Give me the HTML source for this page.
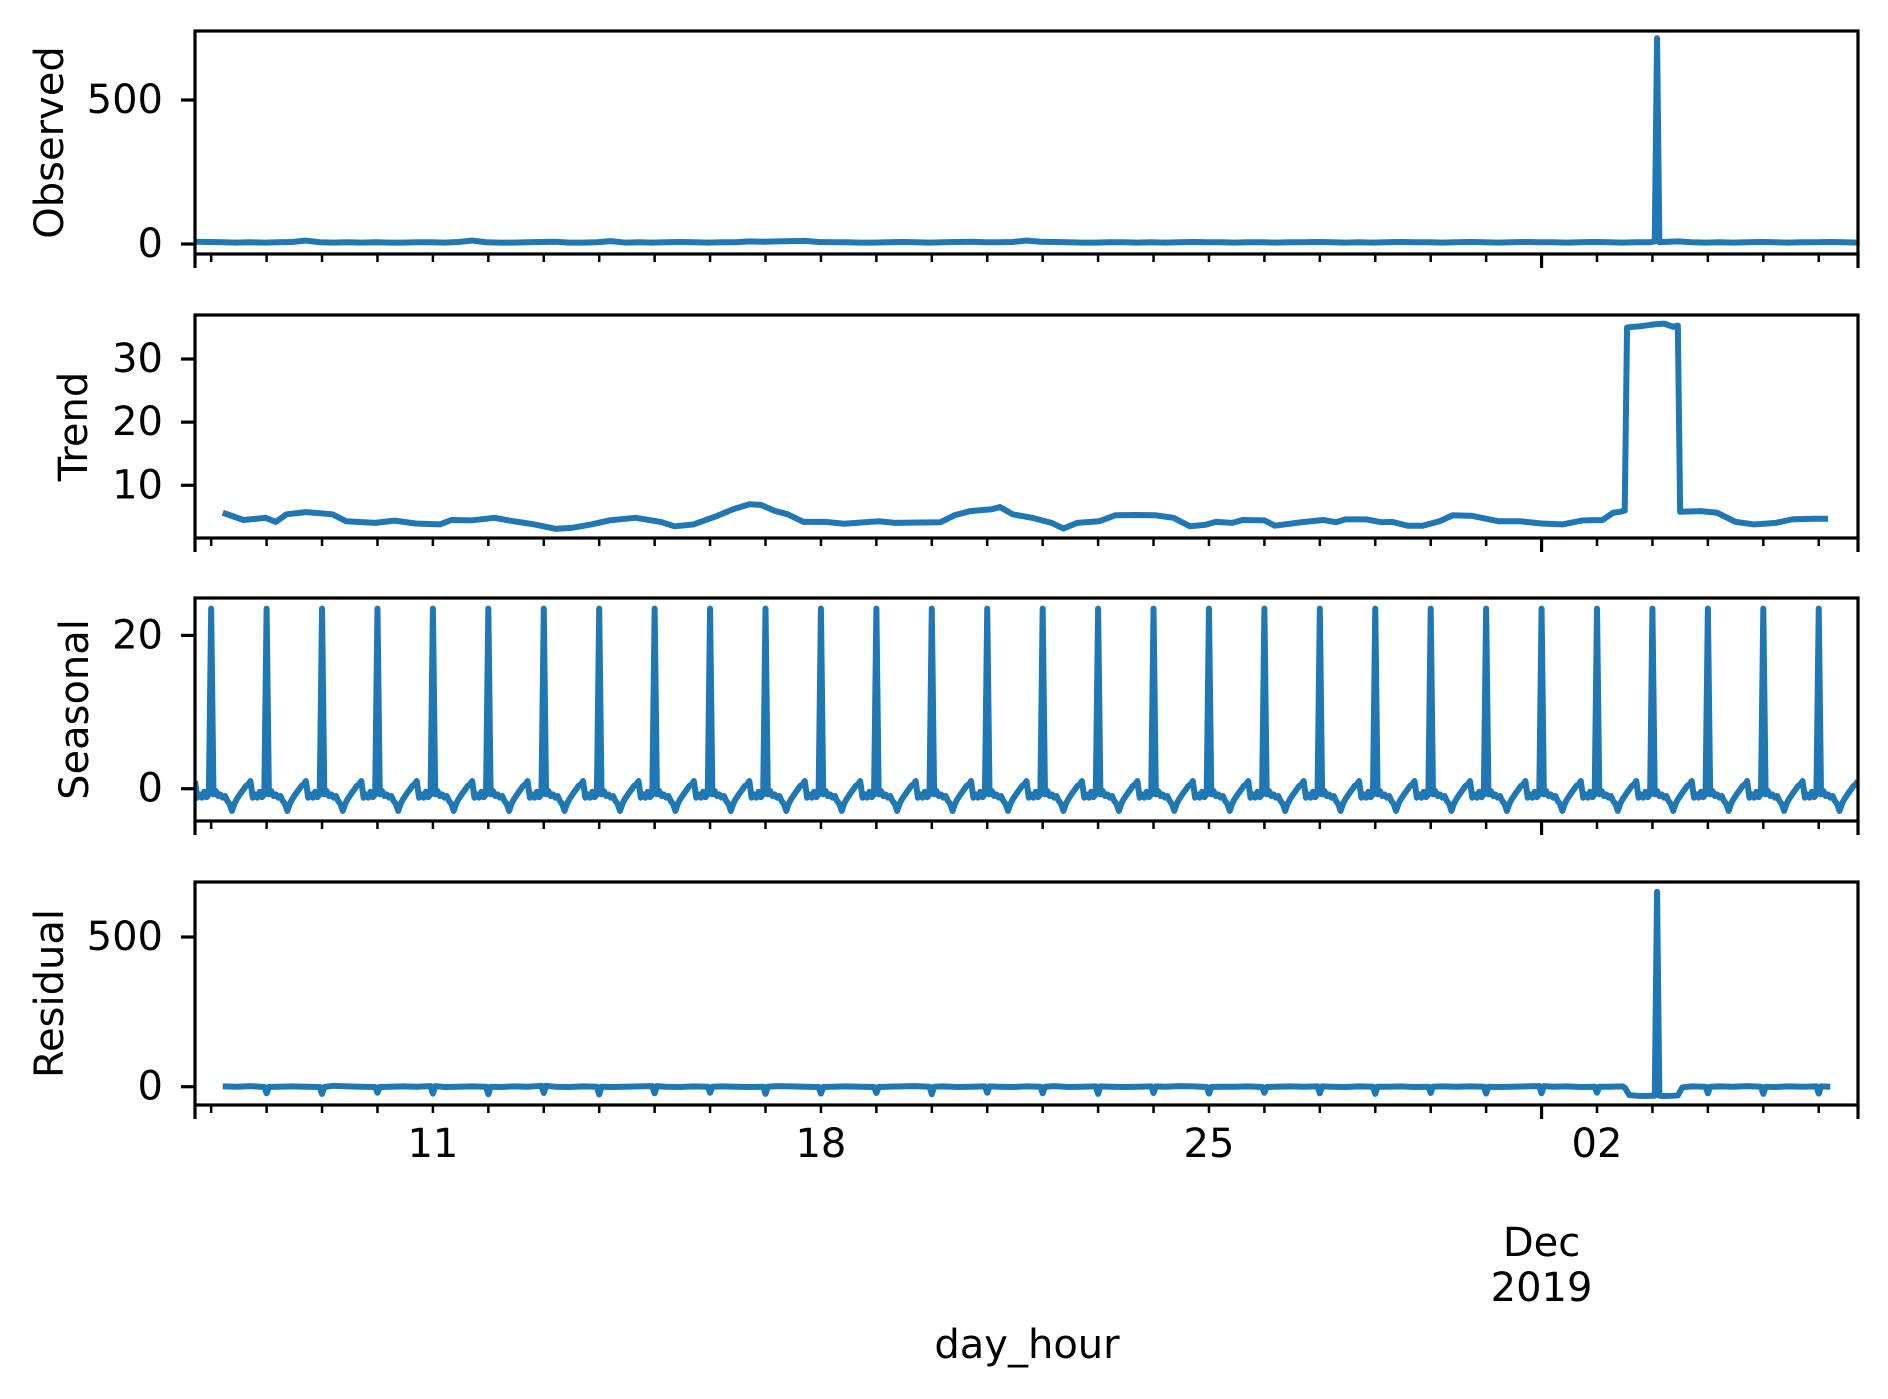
<!DOCTYPE html>
<html><head><meta charset="utf-8"><title>Seasonal decomposition</title>
<style>
html,body{margin:0;padding:0;background:#fff;}
svg{display:block;font-family:"DejaVu Sans","Liberation Sans",sans-serif;}
</style></head>
<body>
<svg id="chart" width="1888" height="1399" viewBox="0 0 1888 1399" xmlns="http://www.w3.org/2000/svg">
<rect x="0" y="0" width="1888" height="1399" fill="#fff"/>
</svg>
<script>
// ---- data (hours since 2019-11-06 17:00) ----
const obsStep = 6;
const observedVals = [8,7,6,5,6,5,6,7,12,6,5,6,5,6,5,5,6,6,5,7,12,6,5,5,6,7,8,5,5,6,10,5,6,5,6,7,6,5,6,6,9,8,9,10,11,7,6,6,5,5,6,7,6,5,6,7,8,6,6,7,12,8,7,6,5,5,6,6,5,6,5,6,7,6,6,5,6,6,5,6,6,7,6,5,6,5,6,7,6,6,5,6,7,6,5,6,7,6,6,5,6,7,6,5,6,6,7,9,6,5,6,5,6,7,6,5,6,6,7,6,5];
const observedSpikeHour = [632,633,634];
const observedSpikeVal = [9,715,6];

const trendHours = [12,21,30.5,35,39.6,48,59.5,65.5,78,86.4,95.5,106,111,120,129.6,138,147,156,163,171.6,179.5,190.8,201.6,207.6,215.8,225,233,240,245,251,256.6,263.5,273,281,296,303,322.8,328.8,335.5,345,348.5,354,363,370.8,376,382,391.4,398.4,407.5,415.7,423.6,430.8,437.5,442,449,453.6,463,467.5,479,488.4,494,498,507,513.6,518.4,525,531.6,538.8,544.6,553,564.5,573.6,583,592,601,609.4,614,617,619,620,626,632,636,640,642,643,652,659,667,675,684.5,691.4,700.6,707];
const trendVals = [5.65,4.5,4.85,4.2,5.4,5.75,5.4,4.3,4.05,4.4,3.95,3.8,4.5,4.45,4.85,4.3,3.8,3.1,3.25,3.8,4.45,4.85,4.2,3.5,3.8,5.0,6.2,7.0,6.9,5.95,5.4,4.2,4.2,3.9,4.3,4.05,4.15,5.25,5.9,6.2,6.55,5.4,4.8,4.05,3.15,4.05,4.3,5.25,5.3,5.25,4.85,3.5,3.75,4.2,4.05,4.5,4.45,3.6,4.15,4.5,4.15,4.6,4.6,4.15,4.2,3.6,3.6,4.3,5.25,5.15,4.3,4.3,3.95,3.8,4.45,4.5,5.65,5.8,6.0,35.0,35.2,35.5,35.6,35.1,35.3,5.8,5.9,5.65,4.2,3.8,4.05,4.6,4.7,4.7];

// seasonal daily pattern, index = hour of day (0 = midnight)
const seasonalPattern = [23.5,-0.74,-0.3,-0.95,-0.74,-1.17,-0.95,-1.6,-2.0,-2.9,-2.0,-1.4,-0.95,-0.5,-0.1,0.35,0.55,1.0,-1.17,-0.74,-1.17,-0.4,-1.1,-0.74];
const startHourOfDay = 17;
const totalHours = 720;

const residStart = 12, residStep = 6;
const residualVals = [1,0,2,-1,0,1,0,-1,3,1,0,-1,0,1,0,2,-1,0,1,0,-1,1,0,3,0,-1,1,0,-1,0,1,2,0,-1,1,0,1,0,-1,0,2,1,0,-1,0,1,0,-1,0,1,2,0,1,-1,0,1,0,-1,1,0,2,-1,0,1,0,-1,0,1,0,2,1,-1,0,0,1,-1,0,1,0,1,0,-1,1,0,0,1,-1,0,1,0,1,0,-1,0,1,2,0,1,-1,0,0,1,0,-1,1,0,1,0,1,0,2,0,-1,1,0,1,0];
const residDipVals = [-22,-24,-20,-23,-25,-21,-26,-22,-20,-24,-23,-21,-25,-20,-22,-24,-21,-23,-20,-22,-24,-21,-23,-22,-20,null,-22,-24,-23];
const residPlateauHours = [619,621,624,628,632,636,640,642,644];
const residPlateauVals = [-3,-28,-30,-31,-30,-31,-30,-29,-2];
const residSpikeHour = [632,633,634];
const residSpikeVal = [-30,651,-30];

const xTickDays = [11,18,25,32];
const xTickLabels = ['11','18','25','02'];
const obsTicks = [0,500], trendTicks = [10,20,30], seasTicks = [0,20], residTicks = [0,500];

// ---- layout ----
const NS = 'http://www.w3.org/2000/svg';
const svg = document.getElementById('chart');
const X0 = 195, X1 = 1858;
const xScale = h => X0 + h * (X1 - X0) / totalHours;
const dayToHour = d => 7 + 24 * (d - 7);
const panels = [
  {name:'observed', label:'Observed', top:31, ymin:-34.7, ymax:739.6, ticks:obsTicks, lx:50},
  {name:'trend', label:'Trend', top:315, ymin:1.65, ymax:36.97, ticks:trendTicks, lx:74},
  {name:'seasonal', label:'Seasonal', top:598, ymin:-4.21, ymax:24.88, ticks:seasTicks, lx:75},
  {name:'residual', label:'Residual', top:882, ymin:-61.1, ymax:683.7, ticks:residTicks, lx:50}
];
const PH = 223;
function mk(tag, attrs, parent){ const e=document.createElementNS(NS,tag); for(const k in attrs) e.setAttribute(k,attrs[k]); (parent||svg).appendChild(e); return e; }

function observedSeries(){
  const pts=[];
  observedVals.forEach((v,i)=>{ const h=i*obsStep; if(h>=observedSpikeHour[0] && h<=observedSpikeHour[2]) return; pts.push([h,v]); });
  observedSpikeHour.forEach((h,i)=>pts.push([h,observedSpikeVal[i]]));
  return pts.sort((a,b)=>a[0]-b[0]);
}
function trendSeries(){ return trendHours.map((h,i)=>[h,trendVals[i]]); }
function seasonalSeries(){
  const pts=[]; for(let h=0;h<=totalHours;h++) pts.push([h, seasonalPattern[(startHourOfDay+h)%24]]); return pts;
}
function residualSeries(){
  const pts=[];
  const pLo=residPlateauHours[0], pHi=residPlateauHours[residPlateauHours.length-1];
  const dipHours=[];
  residDipVals.forEach((v,k)=>{ if(v!=null) dipHours.push(7+24*(k+1)); });
  residualVals.forEach((v,i)=>{
    const h=residStart+i*residStep;
    if(h>=pLo && h<=pHi) return;
    if(dipHours.some(dh=>Math.abs(dh-h)<=1)) return;
    pts.push([h,v]);
  });
  residDipVals.forEach((v,k)=>{
    if(v==null) return;
    const h=7+24*(k+1);
    const bi=Math.round((h-residStart)/residStep);
    const bv=residualVals[Math.max(0,Math.min(residualVals.length-1,bi))];
    pts.push([h-1,bv]); pts.push([h,v]); pts.push([h+1,bv]);
  });
  residPlateauHours.forEach((h,i)=>{ if(residSpikeHour.indexOf(h)<0) pts.push([h,residPlateauVals[i]]); });
  residSpikeHour.forEach((h,i)=>pts.push([h,residSpikeVal[i]]));
  return pts.sort((a,b)=>a[0]-b[0]);
}
const series = [observedSeries(), trendSeries(), seasonalSeries(), residualSeries()];

panels.forEach((p,pi)=>{
  const g = mk('g',{});
  
  
  const bot = p.top+PH;
  const yS = v => bot - (v-p.ymin)/(p.ymax-p.ymin)*PH;
  const clipId='clip'+pi;
  const cp=mk('clipPath',{id:clipId},g); mk('rect',{x:X0,y:p.top,width:X1-X0,height:PH},cp);
  const d = series[pi].map((pt,i)=>(i?'L':'M')+xScale(pt[0]).toFixed(2)+' '+yS(pt[1]).toFixed(2)).join(' ');
  const line = mk('path',{d:d,fill:'none',stroke:'#1f77b4','stroke-width':6,'stroke-linejoin':'round','clip-path':'url(#'+clipId+')'},g);
  
  
  const fr = mk('rect',{x:X0,y:p.top,width:X1-X0,height:PH,fill:'none',stroke:'#000','stroke-width':3.2},g);
  
  
  p.ticks.forEach(t=>{
    const y=yS(t);
    mk('line',{x1:X0-14,x2:X0,y1:y,y2:y,stroke:'#000','stroke-width':3.2},g);
    const tx=mk('text',{x:163,y:y,'font-size':40,'text-anchor':'end','dominant-baseline':'central',fill:'#000'},g);
    tx.textContent=String(t);
    
    
  });
  for(let k=0;k<30;k++){
    const x=xScale(7+24*k);
    mk('line',{x1:x,x2:x,y1:bot,y2:bot+8,stroke:'#000','stroke-width':2.5},g);
  }
  [0, dayToHour(31), totalHours].forEach(h=>{
    const x=xScale(h);
    mk('line',{x1:x,x2:x,y1:bot,y2:bot+14,stroke:'#000','stroke-width':3.2},g);
  });
  const cy = p.top+PH/2;
  const yl=mk('text',{x:p.lx,y:cy,'font-size':40,'text-anchor':'middle','dominant-baseline':'central',transform:'rotate(-90 '+p.lx+' '+cy+')',fill:'#000'},g);
  yl.textContent=p.label;
  
  
});

xTickDays.forEach((d,i)=>{
  const t=mk('text',{x:xScale(dayToHour(d)),y:1144,'font-size':40,'text-anchor':'middle','dominant-baseline':'central',fill:'#000'});
  t.textContent=xTickLabels[i];
  
  
});
const decX = xScale(dayToHour(31));
const dec=mk('text',{x:decX,y:1243,'font-size':40,'text-anchor':'middle','dominant-baseline':'central',fill:'#000'});
dec.textContent='Dec';


const yr=mk('text',{x:decX,y:1288,'font-size':40,'text-anchor':'middle','dominant-baseline':'central',fill:'#000'});
yr.textContent='2019';


const xt=mk('text',{x:1027,y:1345,'font-size':40,'text-anchor':'middle','dominant-baseline':'central',fill:'#000'});
xt.textContent='day_hour';


</script>
</body></html>
